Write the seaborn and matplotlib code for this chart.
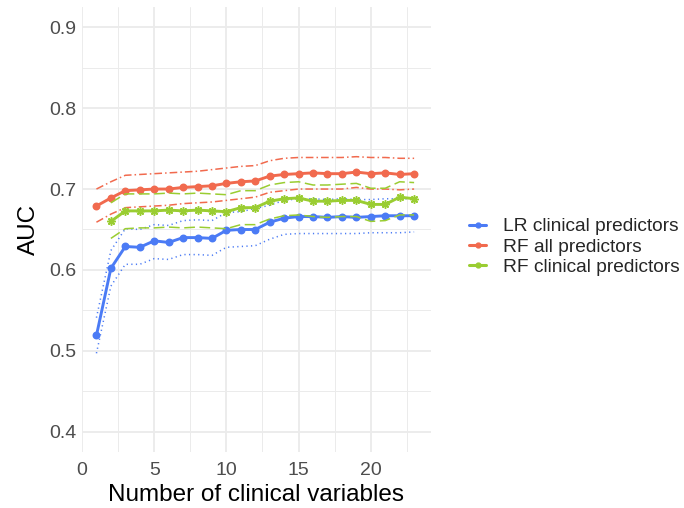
import numpy as np
import pandas as pd
import matplotlib
matplotlib.use("Agg")
import matplotlib.pyplot as plt
import seaborn as sns
from matplotlib.lines import Line2D
from matplotlib.ticker import MultipleLocator

# number of clinical variables
n_vars = list(range(1, 24))
n_vars_rf_clin = list(range(2, 24))

# LR clinical predictors (mean AUC and band)
lr_mean = [0.519, 0.602, 0.629, 0.628, 0.636, 0.634, 0.640, 0.640, 0.639, 0.649, 0.650, 0.650,
           0.659, 0.664, 0.666, 0.666, 0.665, 0.666, 0.665, 0.666, 0.667, 0.667, 0.667]
lr_upper = [0.541, 0.624, 0.651, 0.650, 0.656, 0.655, 0.661, 0.662, 0.661, 0.671, 0.672, 0.676,
            0.680, 0.686, 0.688, 0.688, 0.687, 0.688, 0.687, 0.687, 0.688, 0.688, 0.688]
lr_lower = [0.497, 0.580, 0.607, 0.607, 0.614, 0.613, 0.619, 0.619, 0.618, 0.628, 0.629, 0.630,
            0.638, 0.644, 0.645, 0.645, 0.645, 0.645, 0.645, 0.646, 0.646, 0.646, 0.647]

# RF all predictors
rf_all_mean = [0.679, 0.689, 0.698, 0.699, 0.700, 0.700, 0.702, 0.703, 0.704, 0.707, 0.709, 0.710,
               0.716, 0.718, 0.719, 0.720, 0.719, 0.719, 0.721, 0.719, 0.720, 0.718, 0.719]
rf_all_upper = [0.700, 0.709, 0.717, 0.718, 0.719, 0.720, 0.721, 0.722, 0.724, 0.726, 0.728, 0.729,
                0.735, 0.738, 0.739, 0.739, 0.739, 0.739, 0.740, 0.739, 0.739, 0.738, 0.738]
rf_all_lower = [0.659, 0.669, 0.677, 0.678, 0.679, 0.680, 0.682, 0.683, 0.684, 0.686, 0.688, 0.690,
                0.696, 0.698, 0.700, 0.700, 0.700, 0.700, 0.702, 0.700, 0.700, 0.699, 0.700]

# RF clinical predictors (starts at 2 variables)
rf_clin_mean = [0.660, 0.673, 0.673, 0.673, 0.674, 0.673, 0.674, 0.673, 0.672, 0.677, 0.677,
                0.685, 0.688, 0.689, 0.685, 0.685, 0.686, 0.686, 0.681, 0.681, 0.690, 0.688]
rf_clin_upper = [0.683, 0.694, 0.694, 0.694, 0.695, 0.694, 0.695, 0.694, 0.693, 0.698, 0.698,
                 0.705, 0.708, 0.709, 0.705, 0.705, 0.706, 0.707, 0.701, 0.701, 0.709, 0.708]
rf_clin_lower = [0.639, 0.651, 0.652, 0.652, 0.653, 0.652, 0.653, 0.652, 0.651, 0.656, 0.656,
                 0.663, 0.667, 0.668, 0.666, 0.665, 0.666, 0.666, 0.660, 0.661, 0.668, 0.668]

labels = ["LR clinical predictors", "RF all predictors", "RF clinical predictors"]
colors = ["#4B7BF5", "#F16A4E", "#9ACD32"]

df = pd.concat([
    pd.DataFrame({"n": n_vars, "auc": lr_mean, "lo": lr_lower, "hi": lr_upper, "model": labels[0]}),
    pd.DataFrame({"n": n_vars, "auc": rf_all_mean, "lo": rf_all_lower, "hi": rf_all_upper, "model": labels[1]}),
    pd.DataFrame({"n": n_vars_rf_clin, "auc": rf_clin_mean, "lo": rf_clin_lower, "hi": rf_clin_upper, "model": labels[2]}),
])

sns.set_theme(style="white")
plt.rcParams["font.family"] = ["Liberation Sans", "DejaVu Sans"]

fig = plt.figure(figsize=(6.84, 5.08), dpi=100)
ax = fig.add_axes([82 / 684, 1 - 452 / 508, (431 - 82) / 684, (452 - 7) / 508])

band_styles = {labels[0]: (0, (0.8, 2.2)), labels[1]: (0, (5, 2, 1, 2)), labels[2]: (0, (7, 3))}
markers = {labels[0]: "o", labels[1]: "o", labels[2]: (8, 2, 0)}
msizes = {labels[0]: 4.6, labels[1]: 4.6, labels[2]: 6}

for lab, col in zip(labels, colors):
    sub = df[df["model"] == lab]
    for c in ["lo", "hi"]:
        sns.lineplot(data=sub, x="n", y=c, color=col, ax=ax, linewidth=1.1,
                     linestyle=band_styles[lab], legend=False)
    sns.lineplot(data=sub, x="n", y="auc", color=col, ax=ax, linewidth=2.1,
                 marker=markers[lab], markersize=msizes[lab], markeredgecolor=col,
                 markeredgewidth=1.1, legend=False)

ax.set_xlim(0, 24.17)
ax.set_ylim(0.375, 0.925)
ax.xaxis.set_major_locator(MultipleLocator(5))
ax.xaxis.set_minor_locator(MultipleLocator(2.5))
ax.yaxis.set_major_locator(MultipleLocator(0.1))
ax.yaxis.set_minor_locator(MultipleLocator(0.05))
ax.set_yticks([0.4, 0.5, 0.6, 0.7, 0.8, 0.9])
ax.set_yticklabels(["0.4", "0.5", "0.6", "0.7", "0.8", "0.9"])
ax.grid(which="major", color="#EBEBEB", linewidth=1.3)
ax.grid(which="minor", color="#EBEBEB", linewidth=0.7)
ax.set_axisbelow(True)
for s in ax.spines.values():
    s.set_visible(False)
ax.tick_params(which="both", length=0, labelsize=14, labelcolor="#4D4D4D", pad=4)
ax.tick_params(axis="x", pad=7)
ax.set_xlabel("Number of clinical variables", fontsize=17.5, color="black", labelpad=4)
ax.set_ylabel("AUC", fontsize=17.5, color="black", labelpad=7)

handles = [Line2D([0], [0], color=c, linewidth=2.2, marker="o", markersize=3.5) for c in colors]
fig.legend(handles, labels, loc="center left", bbox_to_anchor=(469 / 684, 1 - 247 / 508),
           frameon=False, fontsize=13.8, handlelength=0.9, handletextpad=0.85,
           labelspacing=0.16, borderpad=0, borderaxespad=0)

fig.savefig("out.png", dpi=100)
